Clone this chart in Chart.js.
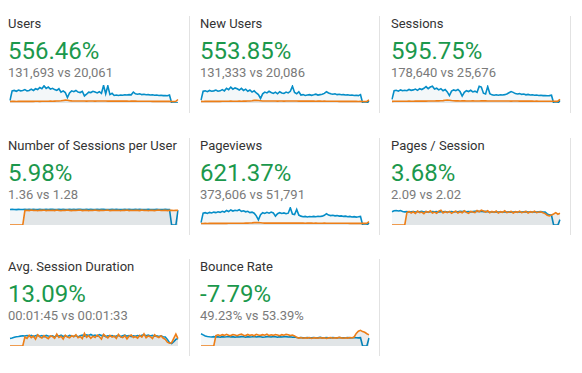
<!DOCTYPE html>
<html>
<head>
<meta charset="utf-8">
<script src="https://cdn.jsdelivr.net/npm/chart.js@4/dist/chart.umd.min.js"></script>
<style>
  html, body { margin: 0; padding: 0; background: #fff; }
  #wrap { position: relative; width: 582px; height: 373px; overflow: hidden; font-family: Roboto, "Noto Sans", sans-serif; }
  .t { position: absolute; white-space: nowrap; line-height: 1; }
  .title { font-size: 13px; color: #333; }
  .big { font-size: 24px; color: #1b984c; }
  .sub { font-size: 13px; color: #7a7a7a; }
  .sep { position: absolute; width: 1px; background: #e2e2e2; }
  canvas { position: absolute; }
</style>
</head>
<body>
<div id="wrap"></div>
<script>
// ---- Metric texts ----
const titles = ["Users", "New Users", "Sessions", "Number of Sessions per User", "Pageviews", "Pages / Session", "Avg. Session Duration", "Bounce Rate"];
const changes = ["556.46%", "553.85%", "595.75%", "5.98%", "621.37%", "3.68%", "13.09%", "-7.79%"];
const compares = ["131,693 vs 20,061", "131,333 vs 20,086", "178,640 vs 25,676", "1.36 vs 1.28", "373,606 vs 51,791", "2.09 vs 2.02", "00:01:45 vs 00:01:33", "49.23% vs 53.39%"];

// ---- Daily series: current period (blue) and previous period (orange) ----
const usersCur = [300,1450,1500,1400,1550,1450,1500,1600,1450,1500,
  1650,1500,1700,1600,1850,1700,2050,1750,1900,1650,
  1750,1600,1500,1700,1300,1450,1250,650,1200,1450,
  1350,1500,1300,1250,1400,850,1050,1300,1250,1400,
  1300,1200,1350,1150,2100,1100,2050,1000,1150,900,
  950,900,950,920,980,950,1000,980,1300,1100,
  1050,1100,1000,1050,980,1000,950,980,920,950,
  900,920,880,900,860,950,0,0,0,0];
const usersPrev = [180,190,200,185,195,200,190,205,195,200,
  210,200,205,215,200,210,205,215,210,220,
  215,225,230,240,260,300,340,320,280,250,
  240,235,230,240,235,230,225,230,235,230,
  225,230,235,240,235,230,225,230,225,220,
  225,230,225,220,225,220,215,220,225,220,
  215,210,215,210,205,210,205,200,205,200,
  195,200,195,190,195,190,185,180,200,420];

const newUsersCur = [350,1400,1450,1350,1500,1400,1450,1550,1400,1450,
  1600,1450,1750,1600,1900,1650,1800,1700,1550,1750,
  1500,1650,1400,1550,1300,1450,1200,1000,550,1100,
  1300,1200,1400,1250,1150,1300,1100,1350,1200,1150,
  1300,1200,1400,2000,1250,1100,1350,950,1000,900,
  950,1000,920,980,1050,950,1000,1050,1150,1350,
  1200,1100,1050,1100,1000,1050,980,1000,950,980,
  920,950,900,930,880,1000,0,0,0,250];
const newUsersPrev = [190,185,200,195,190,205,200,195,210,200,
  205,215,205,210,220,205,215,210,220,215,
  225,220,235,245,270,310,330,300,270,245,
  240,230,235,245,230,235,225,235,230,225,
  230,235,240,235,230,235,225,230,220,225,
  230,225,220,225,215,220,225,215,220,215,
  210,215,210,205,210,200,205,200,195,200,
  195,190,195,190,185,190,180,185,190,380];

const sessionsCur = [450,1500,1550,1450,1600,1500,1550,1500,1650,1550,
  1600,1700,1550,1750,1650,1800,2000,1750,1950,2050,
  1700,1800,1600,1750,1500,1650,1350,900,1450,1600,
  1500,1650,1400,850,1300,1500,1400,1550,1350,1450,
  1300,2050,1950,1200,1100,2000,1150,1000,950,1000,
  950,1000,980,1020,1100,1250,1400,1300,1150,1100,
  1150,1050,1100,1000,1050,980,1000,950,980,920,
  950,900,920,880,900,950,0,0,0,300];
const sessionsPrev = [200,210,205,215,210,220,215,210,225,215,
  220,230,225,235,230,240,235,245,240,250,
  245,255,260,270,290,330,360,340,300,270,
  260,255,250,260,255,250,245,250,255,250,
  245,250,255,260,255,250,245,250,245,240,
  245,250,245,240,245,240,235,240,245,240,
  235,230,235,230,225,230,225,220,225,220,
  215,220,215,210,215,210,205,200,220,460];

const sessionsPerUserCur = [1.36,1.37,1.36,1.35,1.37,1.36,1.36,1.38,1.35,1.37,
  1.36,1.37,1.35,1.36,1.38,1.36,1.35,1.37,1.36,1.38,
  1.37,1.35,1.36,1.37,1.36,1.38,1.36,1.35,1.37,1.36,
  1.37,1.36,1.38,1.37,1.35,1.36,1.37,1.36,1.38,1.36,
  1.35,1.37,1.36,1.38,1.37,1.36,1.35,1.36,1.37,1.36,
  1.37,1.36,1.35,1.36,1.37,1.36,1.38,1.36,1.35,1.37,
  1.36,1.37,1.36,1.35,1.36,1.37,1.36,1.35,1.36,1.37,
  1.36,1.35,1.36,1.37,1.35,1.36,0,0,0,1.31];
const sessionsPerUserPrev = [0,0,0,0,0,0,0,1.27,1.30,1.26,
  1.31,1.27,1.29,1.25,1.30,1.28,1.32,1.26,1.29,1.27,
  1.30,1.26,1.31,1.28,1.25,1.29,1.27,1.32,1.28,1.26,
  1.30,1.27,1.29,1.31,1.26,1.28,1.30,1.25,1.29,1.27,
  1.31,1.28,1.26,1.30,1.27,1.29,1.32,1.26,1.28,1.30,
  1.27,1.29,1.25,1.30,1.28,1.31,1.26,1.29,1.27,1.30,
  1.28,1.26,1.31,1.27,1.29,1.25,1.30,1.28,1.26,1.29,
  1.31,1.27,1.28,1.30,1.26,1.29,1.28,1.27,1.30,1.28];

const pageviewsCur = [900,4400,4600,4300,4700,4500,4800,4600,4900,4700,
  5100,4800,5400,5000,5600,5200,5500,5300,5700,5100,
  5300,4900,5100,4600,4800,4400,3400,1900,3800,4600,
  4300,4700,4400,4800,4500,3300,4200,4600,4300,4500,
  4200,4400,6400,4100,3900,5800,3700,3300,3100,3200,
  3000,3150,3050,3200,3100,3250,3150,3300,3600,4200,
  3700,3500,3600,3400,3500,3300,3400,3200,3300,3100,
  3200,3000,3100,2950,3050,3200,0,0,0,800];
const pageviewsPrev = [560,580,600,570,590,610,600,590,620,600,
  610,630,615,640,625,650,640,660,650,670,
  660,680,700,730,790,880,950,900,820,740,
  710,700,690,710,700,690,680,690,700,690,
  680,690,700,710,700,690,680,690,680,670,
  680,690,680,670,680,670,660,670,680,670,
  660,650,660,650,640,650,640,630,640,630,
  620,630,620,610,620,610,600,590,620,1250];

const pagesPerSessionCur = [2.10,2.25,2.30,2.22,2.28,2.15,2.08,2.12,2.05,2.10,
  2.14,2.06,2.11,2.09,2.15,2.07,2.12,2.04,2.10,2.13,
  2.08,2.11,2.05,2.12,2.09,2.14,2.06,2.10,2.13,2.07,
  2.11,2.09,2.15,2.12,2.18,2.10,2.14,2.08,2.12,2.16,
  2.20,2.14,2.18,2.12,2.16,2.10,2.06,2.09,2.05,2.08,
  2.04,2.07,2.05,2.09,2.06,2.08,2.04,2.07,2.10,2.06,
  2.09,2.05,2.08,2.11,2.06,2.09,2.07,2.10,2.05,2.08,
  2.11,2.07,2.04,1.75,1.60,1.55,0,0,0,0.85];
const pagesPerSessionPrev = [0,0,0,0,0,0,0,1.95,2.15,1.90,
  2.10,1.85,2.20,1.95,2.05,1.80,2.15,2.00,2.25,1.90,
  2.05,1.85,2.20,2.35,1.90,2.10,1.95,2.15,1.85,2.05,
  2.20,1.90,2.10,1.95,2.25,2.00,1.85,2.15,2.05,1.95,
  2.30,2.10,2.35,2.20,2.05,2.25,1.95,2.15,2.00,2.20,
  1.90,2.10,2.00,2.25,1.95,2.05,2.15,1.90,2.10,2.00,
  2.20,1.95,2.05,2.15,1.90,2.10,2.00,2.20,1.95,2.05,
  2.10,1.95,1.80,1.55,1.45,1.60,1.75,1.95,1.70,1.85];

const avgDurationCur = [80,85,92,98,100,104,108,106,110,104,
  112,100,108,115,102,110,98,112,105,100,
  108,96,110,104,115,100,108,98,112,106,
  102,110,96,108,114,104,118,110,122,108,
  115,104,120,110,112,100,108,104,110,98,
  106,112,100,108,116,104,110,100,108,102,
  110,104,112,118,108,114,106,112,104,108,
  100,106,98,95,70,35,25,45,70,80];
const avgDurationPrev = [0,0,0,0,0,0,0,95,80,112,
  88,104,72,118,96,84,110,92,78,106,
  100,82,126,90,102,74,114,94,86,108,
  98,120,88,100,78,134,92,110,82,104,
  90,116,98,74,124,102,86,112,94,106,
  80,122,96,88,110,76,104,116,90,100,
  84,112,94,128,88,106,98,78,118,100,
  90,108,84,70,40,30,35,80,126,78];

const bounceRateCur = [68,62,56,53,51,50,52,50,51,49,
  52,50,51,53,50,52,49,51,50,52,
  51,49,52,50,51,53,50,52,51,49,
  50,52,51,50,53,51,49,52,50,51,
  52,50,51,49,50,47,46,47,45,46,
  47,45,46,47,45,46,48,45,46,47,
  46,45,47,46,45,47,46,45,46,47,
  45,46,47,46,45,46,0,0,0,44];
const bounceRatePrev = [0,0,0,0,0,0,0,58,62,57,
  63,59,65,60,58,64,61,57,63,66,
  60,58,64,59,62,57,65,61,59,63,
  60,66,58,62,59,64,61,57,63,60,
  65,62,58,61,56,48,44,47,43,46,
  44,47,42,46,45,43,47,44,46,42,
  45,47,43,46,44,48,45,43,46,44,
  47,45,50,70,82,87,80,76,68,62];

const days = usersCur.map((_, i) => "Day " + (i + 1));

// ---- Layout ----
const colText = [8, 200, 391];
const colSpark = [10, 201, 392];
const rowTop = [0, 122, 243];
const sepX = [189, 379, 570];

const metrics = [
  { cur: usersCur, prev: usersPrev, max: 2150 },
  { cur: newUsersCur, prev: newUsersPrev, max: 2150 },
  { cur: sessionsCur, prev: sessionsPrev, max: 2200 },
  { cur: sessionsPerUserCur, prev: sessionsPerUserPrev, max: 1.58 },
  { cur: pageviewsCur, prev: pageviewsPrev, max: 6700 },
  { cur: pagesPerSessionCur, prev: pagesPerSessionPrev, max: 2.85 },
  { cur: avgDurationCur, prev: avgDurationPrev, max: 190 },
  { cur: bounceRateCur, prev: bounceRatePrev, max: 100 }
];

const wrap = document.getElementById('wrap');
function addText(cls, txt, x, y) {
  const d = document.createElement('div');
  d.className = 't ' + cls;
  d.textContent = txt;
  d.style.left = x + 'px';
  d.style.top = y + 'px';
  wrap.appendChild(d);
}

// separators
rowTop.forEach((R, r) => {
  sepX.forEach((x, c) => {
    if (r === 2 && c === 2) return;
    const s = document.createElement('div');
    s.className = 'sep';
    s.style.left = x + 'px';
    s.style.top = (R + 16) + 'px';
    s.style.height = '97px';
    wrap.appendChild(s);
  });
});

metrics.forEach((m, i) => {
  const r = Math.floor(i / 3), c = i % 3;
  const R = rowTop[r];
  addText('title', titles[i], colText[c], R + 17);
  addText('big', changes[i], colText[c], R + 39);
  addText('sub', compares[i], colText[c], R + 66);

  const cv = document.createElement('canvas');
  cv.width = 170; cv.height = 22;
  cv.style.left = (colSpark[c] - 1) + 'px';
  cv.style.top = (R + 83) + 'px';
  wrap.appendChild(cv);

  new Chart(cv, {
    type: 'line',
    data: {
      labels: days,
      datasets: [
        { data: m.prev, borderColor: '#ED7E17', borderWidth: 1.6, pointRadius: 0, tension: 0,
          fill: 'origin', backgroundColor: 'rgba(0,0,0,0.075)' },
        { data: m.cur, borderColor: '#058DC7', borderWidth: 1.6, pointRadius: 0, tension: 0,
          fill: 'origin', backgroundColor: 'rgba(90,140,175,0.07)' }
      ]
    },
    options: {
      responsive: false,
      animation: false,
      events: [],
      layout: { padding: { top: 2, bottom: 2, left: 1, right: 1 } },
      plugins: { legend: { display: false }, tooltip: { enabled: false } },
      scales: {
        x: { display: false },
        y: { display: false, min: 0, max: m.max }
      }
    }
  });
});
</script>
</body>
</html>
